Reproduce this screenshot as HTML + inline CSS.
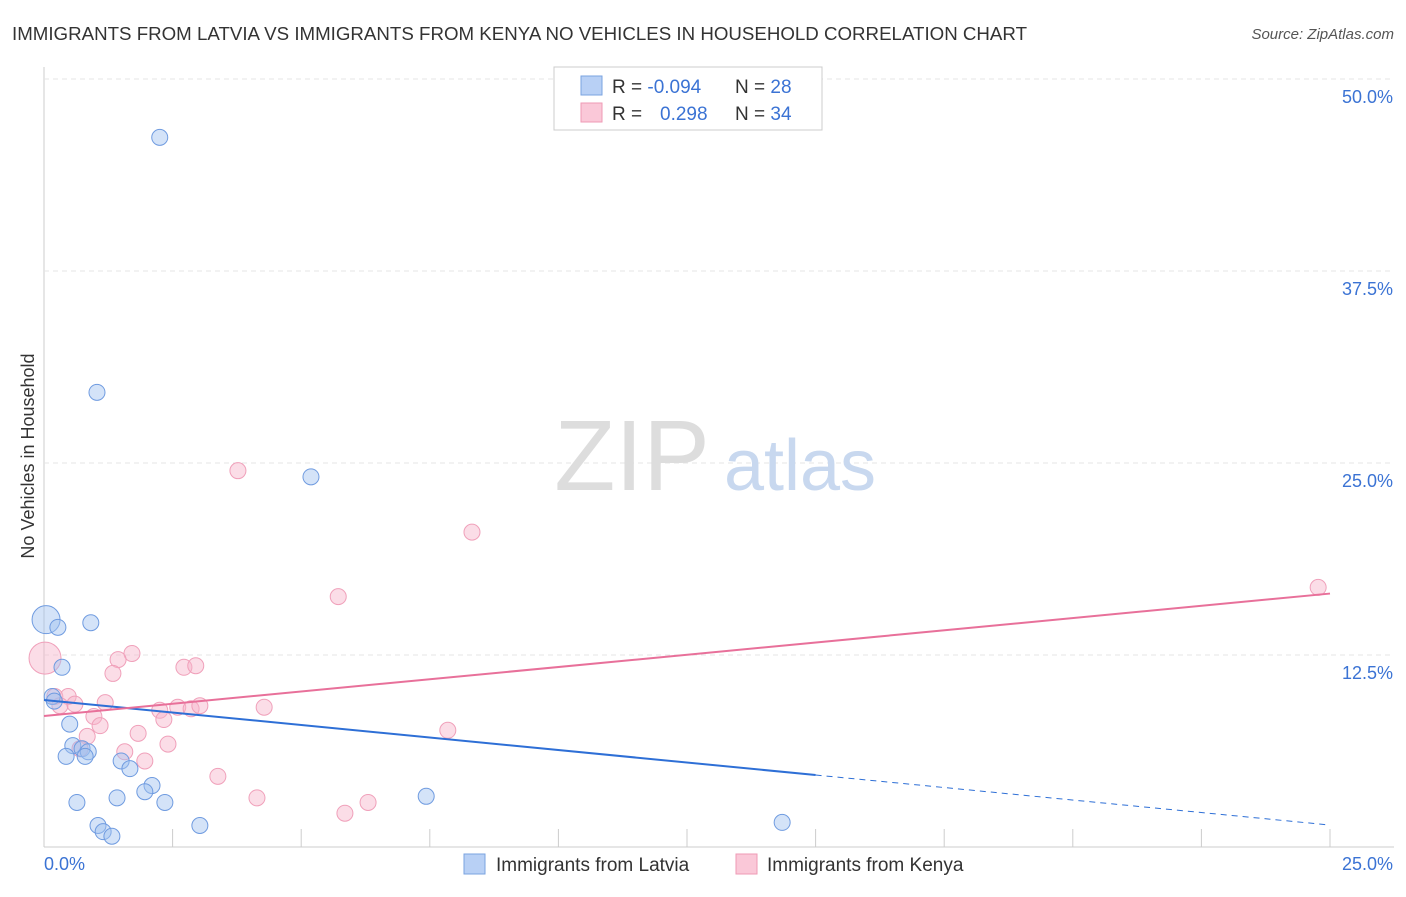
<!DOCTYPE html>
<html><head><meta charset="utf-8"><style>
body{margin:0;background:#fff;font-family:"Liberation Sans",sans-serif;}
svg text{font-family:"Liberation Sans",sans-serif;}
</style></head><body>
<svg width="1406" height="892" xmlns="http://www.w3.org/2000/svg">
<text x="12" y="40" font-size="18" fill="#333" textLength="1015" lengthAdjust="spacingAndGlyphs">IMMIGRANTS FROM LATVIA VS IMMIGRANTS FROM KENYA NO VEHICLES IN HOUSEHOLD CORRELATION CHART</text>
<text x="1394" y="39" font-size="15" fill="#555" text-anchor="end" font-style="italic">Source: ZipAtlas.com</text>
<g id="grid"></g>
<text x="632" y="490" font-size="100" fill="#ddd" font-family="Liberation Serif" text-anchor="middle">ZIP</text>
<text x="800" y="490" font-size="72" fill="#c8d8ef" text-anchor="middle">atlas</text>
<text transform="translate(34,456) rotate(-90)" font-size="18" fill="#333" text-anchor="middle">No Vehicles in Household</text>
<g id="pts"></g>
<g id="lines"></g>
<g>
<rect x="554" y="67" width="268" height="63" fill="#fff" stroke="#ccc"/>
<rect x="581" y="76" width="21" height="19" fill="#b8d0f5" stroke="#7aa3e0"/>
<rect x="581" y="103" width="21" height="19" fill="#fac8d8" stroke="#ef9ab5"/>
<text x="612" y="93" font-size="19" fill="#333">R = <tspan fill="#3b73d4">-0.094</tspan></text>
<text x="735" y="93" font-size="19" fill="#333">N = <tspan fill="#3b73d4">28</tspan></text>
<text x="612" y="120" font-size="19" fill="#333">R = <tspan fill="#3b73d4" x="660">0.298</tspan></text>
<text x="735" y="120" font-size="19" fill="#333">N = <tspan fill="#3b73d4">34</tspan></text>
</g>
<g>
<rect x="464" y="854" width="21" height="20" fill="#b8d0f5" stroke="#7aa3e0"/>
<text x="496" y="871" font-size="19" fill="#333">Immigrants from Latvia</text>
<rect x="736" y="854" width="21" height="20" fill="#fac8d8" stroke="#ef9ab5"/>
<text x="767" y="871" font-size="19" fill="#333">Immigrants from Kenya</text>
</g>
</svg>
<script>
const xTicks=[0,2.5,5,7.5,10,12.5,15,17.5,20,22.5,25];
const yTicks=[12.5,25,37.5,50];
const yTickLabels=["12.5%","25.0%","37.5%","50.0%"];
const latviaX=[2.25,1.03,5.19,0.04,0.27,0.91,0.35,0.16,0.2,0.5,0.56,0.43,0.74,0.86,0.8,1.5,1.67,2.1,1.96,2.35,1.42,0.64,1.05,1.15,1.32,3.03,7.43,14.35];
const latviaY=[46.2,29.6,24.1,14.8,14.3,14.6,11.7,9.8,9.5,8.0,6.6,5.9,6.4,6.2,5.9,5.6,5.1,4.0,3.6,2.9,3.2,2.9,1.4,1.0,0.7,1.4,3.3,1.6];
const latviaSize=[1,1,1,2,1,1,1,1,1,1,1,1,1,1,1,1,1,1,1,1,1,1,1,1,1,1,1,1];
const kenyaX=[24.77,3.77,8.32,5.72,0.02,1.71,1.44,1.34,2.72,2.95,0.21,0.47,0.31,0.6,1.19,0.97,1.09,2.25,2.6,2.86,3.03,4.28,2.33,1.83,0.84,2.41,7.85,1.57,0.7,1.96,3.38,4.14,6.3,5.85];
const kenyaY=[16.9,24.5,20.5,16.3,12.3,12.6,12.2,11.3,11.7,11.8,9.8,9.8,9.2,9.3,9.4,8.5,7.9,8.9,9.1,9.0,9.2,9.1,8.3,7.4,7.2,6.7,7.6,6.2,6.4,5.6,4.6,3.2,2.9,2.2];
const kenyaSize=[1,1,1,1,2,1,1,1,1,1,1,1,1,1,1,1,1,1,1,1,1,1,1,1,1,1,1,1,1,1,1,1,1,1];
const latviaTrend=[9.57,1.43];
const kenyaTrend=[8.53,16.5];
const latviaSolidEnd=15;
const X0=44,X1=1330,Y0=847,Y1=79;
const sx=v=>X0+(v/25)*(X1-X0);
const sy=v=>Y0-(v/50)*(Y0-Y1);
const NS="http://www.w3.org/2000/svg";
function mk(tag,at,parent){const e=document.createElementNS(NS,tag);for(const k in at)e.setAttribute(k,at[k]);parent.appendChild(e);return e;}
const grid=document.getElementById('grid');
mk('line',{x1:X0,y1:67,x2:X0,y2:Y0,stroke:'#ccc'},grid);
mk('line',{x1:X0,y1:Y0,x2:1394,y2:Y0,stroke:'#ccc'},grid);
yTicks.forEach((t,i)=>{
 const l=mk('line',{x1:X0,y1:sy(t),x2:1394,y2:sy(t),stroke:'#e4e4e4','stroke-dasharray':'5,4'},grid);
 
 
 const tx=mk('text',{x:1393,y:sy(t)+24,'font-size':18,fill:'#3b73d4','text-anchor':'end'},grid);
 tx.textContent=yTickLabels[i];
 
 
});
xTicks.forEach(t=>{
 const l=mk('line',{x1:sx(t),y1:Y0-18,x2:sx(t),y2:Y0,stroke:'#ccc'},grid);
 
 
});
let t0=mk('text',{x:44,y:870,'font-size':18,fill:'#3b73d4'},grid);t0.textContent='0.0%';


let t1=mk('text',{x:1393,y:870,'font-size':18,fill:'#3b73d4','text-anchor':'end'},grid);t1.textContent='25.0%';


const pts=document.getElementById('pts');
kenyaX.forEach((x,i)=>{
 const c=mk('circle',{cx:sx(x),cy:sy(kenyaY[i]),r:kenyaSize[i]>1?16:8,fill:'rgba(247,180,202,0.45)',stroke:'#f0a0ba','stroke-width':1},pts);
 
 
});
latviaX.forEach((x,i)=>{
 const c=mk('circle',{cx:sx(x),cy:sy(latviaY[i]),r:latviaSize[i]>1?14:8,fill:'rgba(160,192,240,0.45)',stroke:'#6f9be0','stroke-width':1},pts);
 
 
});
const lines=document.getElementById('lines');
const lv=x=>latviaTrend[0]+(latviaTrend[1]-latviaTrend[0])*x/25;
let a=mk('line',{x1:sx(0),y1:sy(lv(0)),x2:sx(latviaSolidEnd),y2:sy(lv(latviaSolidEnd)),stroke:'#2e6fd6','stroke-width':2},lines);


let b=mk('line',{x1:sx(latviaSolidEnd),y1:sy(lv(latviaSolidEnd)),x2:sx(25),y2:sy(lv(25)),stroke:'#2e6fd6','stroke-width':1,'stroke-dasharray':'6,5'},lines);


let k=mk('line',{x1:sx(0),y1:sy(kenyaTrend[0]),x2:sx(25),y2:sy(kenyaTrend[1]),stroke:'#e8709a','stroke-width':2},lines);


</script>
</body></html>
